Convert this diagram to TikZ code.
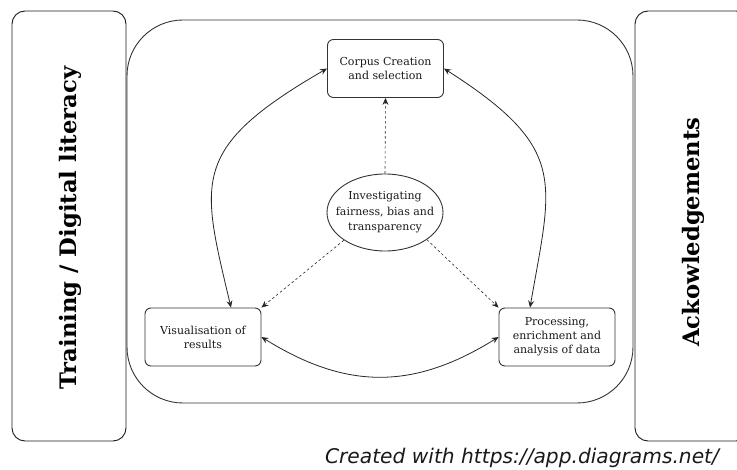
\documentclass[tikz,border=0pt]{standalone}
\usepackage{fontspec}
\setmainfont{DejaVu Serif}
\newfontfamily\credfont{DejaVu Sans}
\usetikzlibrary{shapes.geometric,arrows.meta}
\begin{document}
\begin{tikzpicture}[x=1pt,y=1pt,
  lc/.style={draw=black!80,line width=0.9pt},
  sidebox/.style={lc,draw=black!90,rounded corners=13pt,minimum width=114pt,minimum height=430pt,inner sep=0pt},
  bigbox/.style={lc,rounded corners=56pt,minimum width=506pt,minimum height=383pt,inner sep=0pt},
  txt/.style={align=center,font=\fontsize{11}{14}\selectfont,text=black!90,inner sep=0pt},
  stepbox/.style={lc,txt,rounded corners=6pt,minimum width=116pt,minimum height=58pt},
  ellbox/.style={lc,ellipse,minimum width=116pt,minimum height=77pt,inner sep=0pt},
  sidetext/.style={rotate=90,font=\fontsize{22.7}{26}\selectfont\bfseries},
  conn/.style={draw=black!85,line width=0.8pt,{Stealth[length=7pt,width=6pt,inset=2.5pt]}-{Stealth[length=7pt,width=6pt,inset=2.5pt]}},
  dconn/.style={draw=black!85,line width=0.6pt,dash pattern=on 2.5pt off 2.5pt,-{Stealth[length=7pt,width=6pt,inset=2.5pt]}}
]
\useasboundingbox (0,0) rectangle (737,-470);
\node[sidebox] (left) at (69,-226) {};
\node[sidebox] (right) at (692,-226) {};
\node[bigbox] (big) at (380,-211.5) {};
\node[sidetext] (lefttext) at (70,-228) {Training / Digital literacy};
\node[sidetext] (righttext) at (693,-232) {Ackowledgements};

\node[stepbox] (corpus) at (385.5,-68.5) {Corpus Creation\\and selection};
\node[ellbox] (inv) at (385,-212.5) {};
\node[txt,font=\fontsize{11}{15.5}\selectfont] (invtext) at (inv.center) {Investigating\\fairness, bias and\\transparency};
\node[stepbox] (vis) at (203,-337) {Visualisation of\\results};
\node[stepbox] (proc) at (557,-337) {Processing,\\enrichment and\\analysis of data};

\coordinate (vistop) at ([xshift=28pt]vis.north);
\coordinate (proctop) at ([xshift=-27pt]proc.north);

\draw[conn] (vistop) .. controls +(-30,127) and +(-138,-80) .. (corpus.west);
\draw[conn] (corpus.east) .. controls +(125,-80) and +(22,127) .. (proctop);
\draw[conn] (vis.east) .. controls +(85,-53) and +(-85,-53) .. (proc.west);

\draw[dconn] (inv.north) -- (corpus.south);
\draw[dconn] (inv.214) -- (vis.north east);
\draw[dconn] (inv.-33) -- (proc.north west);

\node[font=\credfont\itshape\fontsize{20.2}{24}\selectfont,text=black!90] (credit) at (522,-458) {Created with https://app.diagrams.net/};
\end{tikzpicture}
\end{document}
